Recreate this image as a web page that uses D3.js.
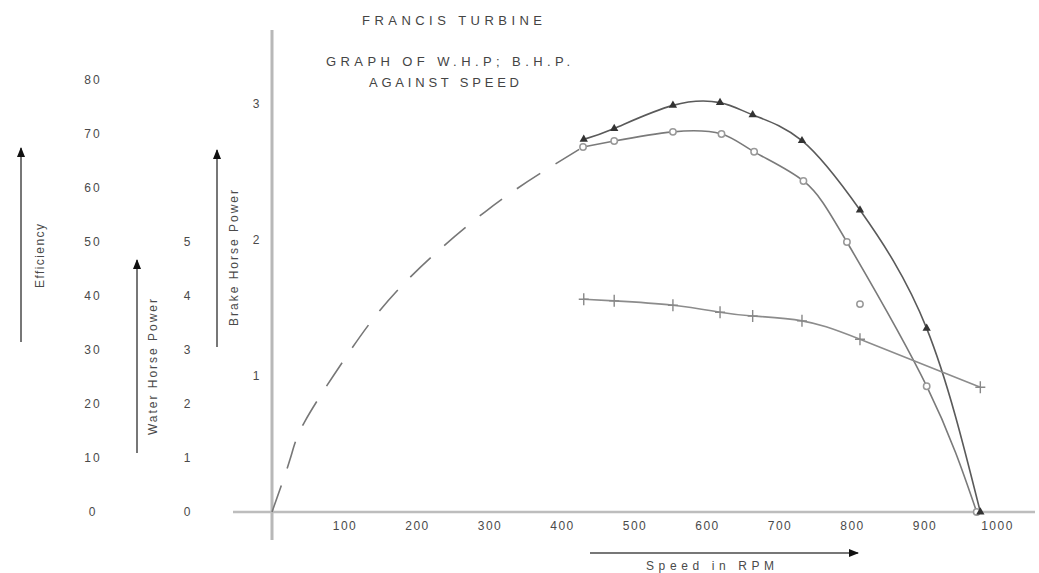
<!DOCTYPE html>
<html>
<head>
<meta charset="utf-8">
<script src="https://cdn.jsdelivr.net/npm/d3@7"></script>
<style>
  html, body { margin: 0; padding: 0; background: #fff; }
  svg { display: block; font-family: "Liberation Sans", Arial, sans-serif; }
</style>
</head>
<body>
<svg id="chart" width="1039" height="573"></svg>
<script>
// Francis turbine test: brake HP, water HP and efficiency against speed.
const speedTicks = [100, 200, 300, 400, 500, 600, 700, 800, 900, 1000];
const effTicks = [0, 10, 20, 30, 40, 50, 60, 70, 80];
const whpTicks = [0, 1, 2, 3, 4, 5];
const bhpTicks = [1, 2, 3];

// Brake horse power (upper curve)
const bhpSpeed = [430, 472, 553, 618, 663, 731, 811, 903, 977];
const bhpValue = [2.74, 2.82, 2.99, 3.01, 2.92, 2.73, 2.22, 1.35, 0];

// Efficiency, %: measured points
const effSpeed = [429, 472, 553, 620, 665, 733, 793, 903, 972];
const effValue = [67.6, 68.7, 70.4, 70.0, 66.7, 61.3, 50.0, 23.3, 0];
// Efficiency, %: dashed extension back to zero speed
const effExtSpeed = [0, 25, 45, 103, 179, 294, 383, 429];
const effExtValue = [0, 9.8, 16.7, 28.9, 41.9, 55.6, 63.8, 67.6];
// Stray efficiency reading off the curve
const effStraySpeed = [811];
const effStrayValue = [38.5];

// Water horse power (flat curve)
const whpSpeed = [430, 472, 553, 618, 663, 731, 811, 977];
const whpValue = [3.94, 3.91, 3.83, 3.70, 3.63, 3.54, 3.20, 2.31];

const svg = d3.select("#chart");
svg.append("rect").attr("width", 1039).attr("height", 573).attr("fill", "#fff");

const x = d3.scaleLinear().domain([0, 1000]).range([272, 997]);
const yBhp = d3.scaleLinear().domain([0, 3]).range([512, 104]);
const yWhp = d3.scaleLinear().domain([0, 5]).range([512, 242]);
const yEff = d3.scaleLinear().domain([0, 80]).range([512, 80]);

const ink = "#4a4a4a";
const fmt = d3.format("d");

// arrowhead marker
const defs = svg.append("defs");
defs.append("marker")
  .attr("id", "arrow").attr("viewBox", "0 0 10 10")
  .attr("refX", 9).attr("refY", 5)
  .attr("markerWidth", 10).attr("markerHeight", 10)
  .attr("markerUnits", "userSpaceOnUse")
  .attr("orient", "auto")
  .append("path").attr("d", "M0,1 L10,5 L0,9 Z").attr("fill", "#111");

// main axes lines
svg.append("line")
  .attr("x1", x(0)).attr("x2", x(0))
  .attr("y1", 30).attr("y2", 540)
  .attr("stroke", "#b8b8b8").attr("stroke-width", 3);
svg.append("line")
  .attr("x1", 233).attr("x2", 1035)
  .attr("y1", yBhp(0)).attr("y2", yBhp(0))
  .attr("stroke", "#bdbdbd").attr("stroke-width", 2.5);

function styleTicks(g, spacing) {
  g.select(".domain").remove();
  g.selectAll("text")
    .attr("fill", ink)
    .attr("font-size", 12)
    .attr("letter-spacing", spacing);
}

// speed axis labels
svg.append("g")
  .attr("transform", `translate(0,${yBhp(0)})`)
  .call(d3.axisBottom(x).tickValues(speedTicks).tickFormat(fmt).tickSize(0).tickPadding(9))
  .call(g => styleTicks(g, 1.5));

// efficiency labels
svg.append("g")
  .attr("transform", "translate(93,0)")
  .call(d3.axisLeft(yEff).tickValues(effTicks).tickFormat(fmt).tickSize(0).tickPadding(0))
  .call(g => { styleTicks(g, 2); g.selectAll("text").attr("text-anchor", "middle"); });

// water horse power labels
svg.append("g")
  .attr("transform", "translate(187,0)")
  .call(d3.axisLeft(yWhp).tickValues(whpTicks).tickFormat(fmt).tickSize(0).tickPadding(0))
  .call(g => { styleTicks(g, 0); g.selectAll("text").attr("text-anchor", "middle"); });

// brake horse power labels
svg.append("g")
  .attr("transform", "translate(256,0)")
  .call(d3.axisLeft(yBhp).tickValues(bhpTicks).tickFormat(fmt).tickSize(0).tickPadding(0))
  .call(g => { styleTicks(g, 0); g.selectAll("text").attr("text-anchor", "middle"); });

// axis arrows with rotated titles
const vArrows = [
  { x: 21, y1: 342, y2: 148, label: "Efficiency", lx: 44, ly: 256, len: 64 },
  { x: 137, y1: 453, y2: 260, label: "Water Horse Power", lx: 157, ly: 367, len: 136 },
  { x: 217, y1: 347, y2: 150, label: "Brake Horse Power", lx: 238, ly: 258, len: 136 }
];
vArrows.forEach(a => {
  svg.append("line")
    .attr("x1", a.x).attr("x2", a.x).attr("y1", a.y1).attr("y2", a.y2)
    .attr("stroke", "#777").attr("stroke-width", 2)
    .attr("marker-end", "url(#arrow)");
  svg.append("text")
    .attr("transform", `translate(${a.lx},${a.ly}) rotate(-90)`)
    .attr("text-anchor", "middle")
    .attr("font-size", 12).attr("fill", ink)
    .attr("textLength", a.len).attr("lengthAdjust", "spacing")
    .text(a.label);
});

// speed arrow and title
svg.append("line")
  .attr("x1", 590).attr("x2", 858).attr("y1", 553).attr("y2", 553)
  .attr("stroke", "#777").attr("stroke-width", 2)
  .attr("marker-end", "url(#arrow)");
svg.append("text")
  .attr("x", 710).attr("y", 570)
  .attr("text-anchor", "middle")
  .attr("font-size", 12).attr("fill", ink)
  .attr("textLength", 128).attr("lengthAdjust", "spacing")
  .text("Speed in RPM");

// titles
const titles = [
  { t: "FRANCIS TURBINE", cx: 452, y: 25, len: 180 },
  { t: "GRAPH OF W.H.P; B.H.P.", cx: 448, y: 66, len: 244 },
  { t: "AGAINST SPEED", cx: 444, y: 87, len: 150 }
];
titles.forEach(d => {
  svg.append("text")
    .attr("x", d.cx).attr("y", d.y)
    .attr("text-anchor", "middle")
    .attr("font-size", 13).attr("fill", "#444")
    .attr("textLength", d.len).attr("lengthAdjust", "spacing")
    .text(d.t);
});

// curves
const zip = (xs, ys) => xs.map((s, i) => [s, ys[i]]);
const bhpPts = zip(bhpSpeed, bhpValue);
const effPts = zip(effSpeed, effValue);
const effExtPts = zip(effExtSpeed, effExtValue);
const whpPts = zip(whpSpeed, whpValue);

const lineFor = yScale => d3.line()
  .x(d => x(d[0])).y(d => yScale(d[1]))
  .curve(d3.curveNatural);

svg.append("path").datum(effExtPts)
  .attr("d", lineFor(yEff))
  .attr("fill", "none").attr("stroke", "#777").attr("stroke-width", 1.6)
  .attr("stroke-dasharray", "28,18");

svg.append("path").datum(effPts)
  .attr("d", lineFor(yEff))
  .attr("fill", "none").attr("stroke", "#7a7a7a").attr("stroke-width", 1.6);

svg.append("path").datum(bhpPts)
  .attr("d", lineFor(yBhp))
  .attr("fill", "none").attr("stroke", "#5a5a5a").attr("stroke-width", 1.6);

svg.append("path").datum(whpPts)
  .attr("d", lineFor(yWhp))
  .attr("fill", "none").attr("stroke", "#8c8c8c").attr("stroke-width", 1.6);

// markers: efficiency circles
svg.append("g").selectAll("circle")
  .data(effPts.concat(zip(effStraySpeed, effStrayValue)))
  .join("circle")
  .attr("cx", d => x(d[0])).attr("cy", d => yEff(d[1]))
  .attr("r", 3.2)
  .attr("fill", "#fff").attr("stroke", "#999").attr("stroke-width", 1.5);

// markers: brake HP triangles
svg.append("g").selectAll("path")
  .data(bhpPts)
  .join("path")
  .attr("transform", d => `translate(${x(d[0])},${yBhp(d[1])})`)
  .attr("d", d3.symbol(d3.symbolTriangle, 30))
  .attr("fill", "#333");

// markers: water HP crosses
svg.append("g").selectAll("path")
  .data(whpPts)
  .join("path")
  .attr("transform", d => `translate(${x(d[0])},${yWhp(d[1])})`)
  .attr("d", "M-5,0 L5,0 M0,-6 L0,6")
  .attr("stroke", "#888").attr("stroke-width", 1.4).attr("fill", "none");
</script>
</body>
</html>
